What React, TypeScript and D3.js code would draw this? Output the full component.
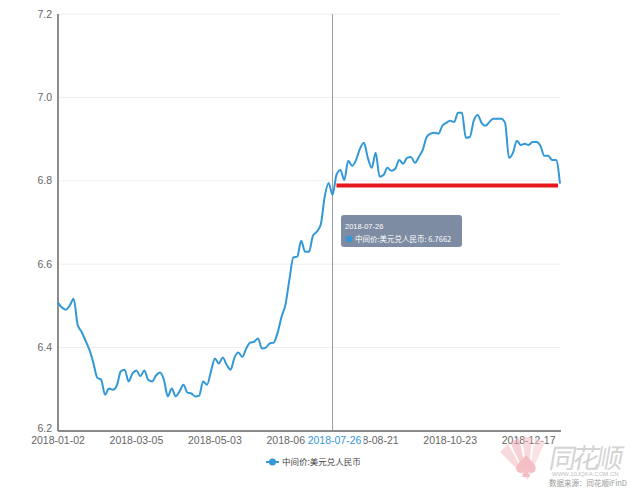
import React from "react";
import * as d3 from "d3";

const values: number[] = [
  6.508, 6.496, 6.491, 6.501, 6.517, 6.455, 6.438, 6.417, 6.395, 6.364,
  6.328, 6.323, 6.287, 6.302, 6.299, 6.309, 6.343, 6.347, 6.319, 6.338,
  6.345, 6.331, 6.345, 6.323, 6.319, 6.333, 6.340, 6.323, 6.283, 6.302,
  6.283, 6.295, 6.311, 6.292, 6.290, 6.283, 6.285, 6.319, 6.311, 6.343,
  6.374, 6.362, 6.376, 6.359, 6.347, 6.376, 6.388, 6.378, 6.398, 6.412,
  6.414, 6.422, 6.398, 6.400, 6.410, 6.412, 6.436, 6.474, 6.503, 6.563,
  6.616, 6.618, 6.656, 6.630, 6.630, 6.668, 6.678, 6.695, 6.762, 6.795,
  6.7662, 6.814, 6.826, 6.802, 6.848, 6.836, 6.850, 6.877, 6.891, 6.855,
  6.831, 6.867, 6.810, 6.814, 6.831, 6.824, 6.829, 6.850, 6.841, 6.855,
  6.857, 6.843, 6.857, 6.874, 6.905, 6.913, 6.915, 6.913, 6.932, 6.939,
  6.944, 6.941, 6.963, 6.963, 6.903, 6.905, 6.944, 6.958, 6.939, 6.932,
  6.941, 6.949, 6.949, 6.949, 6.939, 6.855, 6.867, 6.896, 6.886, 6.889,
  6.886, 6.893, 6.893, 6.884, 6.860, 6.860, 6.850, 6.850, 6.793,
];

const xTickLabels = ["2018-01-02", "2018-03-05", "2018-05-03", "2018-06-27", "2018-08-21", "2018-10-23", "2018-12-17"];
const xTickIndex = [0, 20, 40, 60, 80, 100, 120];
const yTicks = [6.2, 6.4, 6.6, 6.8, 7.0, 7.2];

const seriesName = "中间价:美元兑人民币";
const focusIndex = 70;
const focusDate = "2018-07-26";
const markLevel = 6.789;
const markRange = [71, 127.5];

const FONT = "'Liberation Sans', Arial, sans-serif";
const CJK = "'Noto Sans CJK SC', sans-serif";
const BLUE = "#3398d6";

export default function App() {
  const left = 58, right = 560, top = 14, bottom = 431;
  const x = d3.scaleLinear().domain([0, values.length - 1]).range([left, right]);
  const y = d3.scaleLinear().domain([6.2, 7.2]).range([bottom, top]);
  const line = d3
    .line<number>()
    .x((_, i) => x(i))
    .y((d) => y(d))
    .curve(d3.curveMonotoneX);

  const fx = x(focusIndex);
  const focusValue = values[focusIndex];
  const labelY = 444;

  return (
    <svg
      width={640}
      height={490}
      style={{ position: "absolute", left: 0, top: 0, background: "#fff" }}
    >
      {/* grid */}
      {yTicks.map((t) => (
        <line key={"g" + t} x1={left} x2={right} y1={y(t)} y2={y(t)} stroke="#eeeeee" strokeWidth={1} />
      ))}
      {/* y labels */}
      {yTicks.map((t) => (
        <text
          key={"yl" + t}
          x={52}
          y={y(t) - (t === 6.2 ? 3 : 0)}
          dy="0.35em"
          textAnchor="end"
          fontFamily={FONT}
          fontSize={10.5}
          fill="#666"
        >
          {t.toFixed(1)}
        </text>
      ))}
      {/* axes */}
      <line x1={left} x2={left} y1={top} y2={bottom} stroke="#808080" strokeWidth={1.8} />
      <line x1={left} x2={right + 1} y1={bottom} y2={bottom} stroke="#666" strokeWidth={1.5} />

      {/* x labels */}
      {xTickIndex.map((ti, k) => (
        <text
          key={"xl" + k}
          x={x(ti)}
          y={labelY}
          textAnchor="middle"
          fontFamily={FONT}
          fontSize={10.5}
          fill="#666"
        >
          {xTickLabels[k]}
        </text>
      ))}
      {/* focused x label */}
      <rect x={fx - 27} y={433} width={58} height={14} fill="#fff" />
      <text x={fx + 2} y={labelY} textAnchor="middle" fontFamily={FONT} fontSize={10.5} fill={BLUE}>
        {focusDate}
      </text>

      {/* crosshair */}
      <line x1={fx} x2={fx} y1={top} y2={bottom} stroke="#9a9a9a" strokeWidth={1} />

      {/* series */}
      <path d={line(values) || ""} fill="none" stroke={BLUE} strokeWidth={2} strokeLinejoin="round" />

      {/* red annotation */}
      <line
        x1={x(markRange[0])}
        x2={x(markRange[1])}
        y1={y(markLevel)}
        y2={y(markLevel)}
        stroke="#e8161d"
        strokeWidth={4}
      />

      {/* tooltip */}
      <g>
        <rect x={341} y={215} width={121} height={32} rx={3} fill="#7d8ca3" />
        <text x={345} y={229} fontFamily={FONT} fontSize={7.5} fill="#fff">
          {focusDate}
        </text>
        <circle cx={349} cy={239} r={3.2} fill={BLUE} />
        <text x={355} y={242} fontFamily={CJK} fontSize={7.5} fill="#fff">
          {seriesName + ": " + focusValue.toFixed(4)}
        </text>
      </g>

      {/* legend */}
      <g>
        <line x1={266} x2={279} y1={462} y2={462} stroke={BLUE} strokeWidth={2} />
        <circle cx={272.5} cy={462} r={3.5} fill={BLUE} />
        <text x={282} y={465} fontFamily={CJK} fontSize={8.5} fill="#444">
          {seriesName}
        </text>
      </g>

      {/* watermark */}
      <g opacity={0.5}>
        <path d="M528 480 L500 452 L508 444 Z" fill="#f2b4bb" />
        <path d="M528 480 L510 442 L519 438 Z" fill="#efa5ad" />
        <path d="M528 480 L522 437 L532 437 Z" fill="#f2b4bb" />
        <path d="M528 480 L535 438 L545 442 Z" fill="#f6c7cc" />
        <path d="M526 455 C520 462 514 466 517 471 C520 475 524 472 525 470 L522 477 L530 477 L527 470 C528 472 532 475 535 471 C538 466 532 462 526 455 Z" fill="#e9818c" />
      </g>
      <text
        x={548}
        y={468}
        fontFamily={CJK}
        fontSize={27}
        fill="#d4d4d4"
        transform="skewX(-10) translate(82.5,0)"
        textLength={74}
      >
        同花顺
      </text>
      <text x={552} y={476} fontFamily={FONT} fontSize={6} fill="#c0c0c0">
        WWW.10JQKA.COM.CN
      </text>
      <text x={549} y={486} fontFamily={CJK} fontSize={7.5} fill="#999">
        数据来源：同花顺iFinD
      </text>
    </svg>
  );
}
